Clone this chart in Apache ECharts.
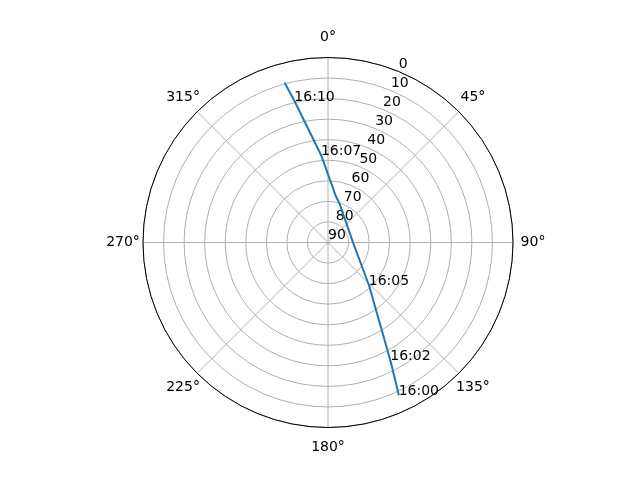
<!DOCTYPE html>
<html>
<head>
<meta charset="utf-8">
<script src="https://cdn.jsdelivr.net/npm/echarts@6/dist/echarts.min.js"></script>
<style>
html,body{margin:0;padding:0;background:#fff;}
#main{width:640px;height:480px;}
</style>
</head>
<body>
<div id="main"></div>
<script>
// Pass track: azimuth (deg, clockwise from north) and elevation (deg)
var azimuth   = [155.1, 152.2, 136.2, 89.3, 70.7, 16.4, 9.0, 355.5, 346.7, 344.8];
var elevation = [8.1, 24.8, 61.2, 77.9, 78.5, 70.2, 66.7, 47.4, 19.4, 9.4];
var timeLabels = ['16:00', '16:02', '16:05', '', '', '', '', '16:07', '16:10', ''];
var angleTicks = [0, 45, 90, 135, 180, 225, 270, 315];
var radiusTicks = [0, 10, 20, 30, 40, 50, 60, 70, 80, 90];

var FONT = 'DejaVu Sans';
var CENTER = [328, 242.5];
var RADIUS = 185;
var LABEL_MARGIN = -8;              // anchor radius for angle labels = RADIUS + LABEL_MARGIN
var LABEL_CENTER = RADIUS + 20;     // desired radius of angle label centres
var S_CARD = 2 * (LABEL_CENTER - (RADIUS + LABEL_MARGIN));
var S_DIAG = Math.SQRT1_2 * S_CARD;

var lineData = azimuth.map(function (az, i) {
  var item = { value: [elevation[i], az] };
  if (timeLabels[i]) {
    item.label = { show: true, formatter: timeLabels[i] };
  }
  return item;
});

var tokenBase = { color: '#000', fontFamily: FONT, fontSize: 14, align: 'center', verticalAlign: 'middle' };

var chart = echarts.init(document.getElementById('main'), null, { renderer: 'canvas' });
chart.setOption({
  animation: false,
  backgroundColor: '#ffffff',
  polar: [
    { center: CENTER, radius: RADIUS },
    { center: CENTER, radius: RADIUS }
  ],
  angleAxis: [
    {
      polarIndex: 0, type: 'value', min: 0, max: 360, interval: 45,
      startAngle: 90, clockwise: true,
      axisLine: { show: true, lineStyle: { color: '#000', width: 1 } },
      axisTick: { show: false },
      axisLabel: {
        show: true, margin: LABEL_MARGIN, color: '#000', fontFamily: FONT, fontSize: 14,
        formatter: function (v) {
          if (angleTicks.indexOf(v) < 0) return '';
          return (v % 90 === 0 ? '{c|' : '{d|') + v + '°}';
        },
        rich: {
          c: Object.assign({ width: S_CARD, height: S_CARD }, tokenBase),
          d: Object.assign({ width: S_DIAG, height: S_DIAG }, tokenBase)
        }
      },
      splitLine: { show: true, lineStyle: { color: '#b0b0b0', width: 1 } }
    },
    {
      polarIndex: 1, type: 'value', min: 0, max: 360, interval: 45,
      startAngle: 67.5, clockwise: true, show: false
    }
  ],
  radiusAxis: [
    {
      polarIndex: 0, type: 'value', inverse: true, min: 0, max: 90, interval: 10,
      axisLine: { show: false }, axisTick: { show: false }, axisLabel: { show: false },
      splitLine: { show: true, lineStyle: { color: '#b0b0b0', width: 1 } }
    },
    {
      polarIndex: 1, type: 'value', inverse: true, min: 0, max: 90, interval: 10,
      axisLine: { show: false }, axisTick: { show: false },
      splitLine: { show: false },
      axisLabel: {
        show: true, margin: 0, rotate: 0, align: 'left', verticalAlign: 'bottom',
        color: '#000', fontFamily: FONT, fontSize: 14,
        formatter: function (v) { return radiusTicks.indexOf(v) >= 0 ? String(v) : ''; }
      }
    }
  ],
  series: [
    {
      type: 'line', coordinateSystem: 'polar', polarIndex: 0,
      data: lineData,
      showSymbol: true, symbol: 'circle', symbolSize: 0.5,
      itemStyle: { color: '#1f77b4' },
      lineStyle: { color: '#1f77b4', width: 2 },
      label: {
        show: false, position: [0, 3], align: 'left', verticalAlign: 'bottom',
        color: '#000', fontFamily: FONT, fontSize: 14
      },
      emphasis: { disabled: true },
      z: 5
    }
  ]
});
</script>
</body>
</html>
